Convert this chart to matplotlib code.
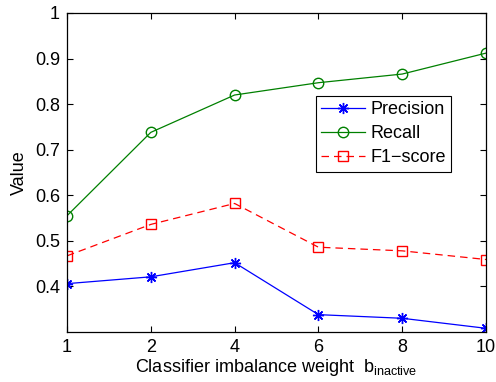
import matplotlib
matplotlib.use("Agg")
import matplotlib.pyplot as plt

plt.rcParams["font.family"] = ["Liberation Sans", "DejaVu Sans"]
plt.rcParams["mathtext.default"] = "regular"

weights = ["1", "2", "4", "6", "8", "10"]
precision = [0.406, 0.421, 0.452, 0.338, 0.330, 0.308]
recall = [0.555, 0.738, 0.820, 0.847, 0.866, 0.912]
f1_score = [0.467, 0.536, 0.582, 0.486, 0.478, 0.459]
yticks = [0.4, 0.5, 0.6, 0.7, 0.8, 0.9, 1.0]

fig = plt.figure(figsize=(4.96, 3.82), dpi=100)
ax = fig.add_axes([0.135, 0.131, 0.845, 0.835])
pos = list(range(len(weights)))

ax.plot(pos, precision, color="blue", linestyle="-", marker=(8, 2, 0), markersize=8,
        markeredgewidth=1.0, linewidth=0.9, label="Precision")
ax.plot(pos, recall, color="green", linestyle="-", marker="o", markersize=7.5,
        markerfacecolor="none", linewidth=0.9, label="Recall")
ax.plot(pos, f1_score, color="red", linestyle=(0, (6, 4)), marker="s", markersize=6.5,
        markerfacecolor="none", linewidth=0.9, label="F1\u2212score")

ax.set_xlim(0, len(weights) - 1)
ax.set_ylim(0.3, 1.0)
ax.set_xticks(pos)
ax.set_xticklabels(weights)
ax.set_yticks(yticks)
ax.set_yticklabels(["0.4", "0.5", "0.6", "0.7", "0.8", "0.9", "1"])
ax.tick_params(direction="in", top=True, right=True, labelsize=13, length=4,
               width=0.8, pad=5)
for s in ax.spines.values():
    s.set_linewidth(0.9)

ax.set_xlabel("Classifier imbalance weight  b$_{inactive}$", fontsize=13, labelpad=1)
ax.set_ylabel("Value", fontsize=13, labelpad=5)

leg = ax.legend(loc="upper left", bbox_to_anchor=(0.594, 0.741), fontsize=13,
                fancybox=False, framealpha=1, edgecolor="black", handlelength=2.4,
                borderpad=0.3, labelspacing=0.4, handletextpad=0.3, borderaxespad=0)
leg.get_frame().set_linewidth(0.8)

plt.savefig("out.png", dpi=100)
plt.close()
